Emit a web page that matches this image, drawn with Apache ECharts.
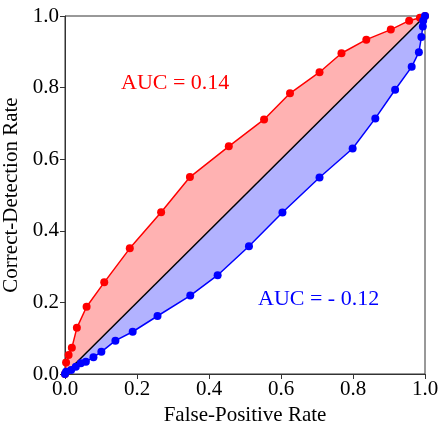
<!DOCTYPE html>
<html><head><meta charset="utf-8">
<script src="https://cdn.jsdelivr.net/npm/echarts@6/dist/echarts.min.js"></script>
<style>html,body{margin:0;padding:0;background:#fff}#c{width:440px;height:422px}</style>
</head><body><div id="c"></div>
<script>
const redX = [0, 0.003, 0.01, 0.019, 0.033, 0.06, 0.109, 0.18, 0.267, 0.347, 0.455, 0.553, 0.625, 0.707, 0.768, 0.837, 0.905, 0.956, 0.986, 1];
const redY = [0, 0.032, 0.053, 0.073, 0.129, 0.188, 0.256, 0.351, 0.452, 0.55, 0.636, 0.711, 0.784, 0.843, 0.896, 0.934, 0.962, 0.987, 0.995, 1];
const blueX = [0, 0.003, 0.017, 0.03, 0.044, 0.058, 0.079, 0.101, 0.14, 0.188, 0.257, 0.348, 0.424, 0.511, 0.604, 0.707, 0.799, 0.862, 0.917, 0.963, 0.983, 0.99, 0.994, 0.995, 1];
const blueY = [0, 0.006, 0.011, 0.02, 0.03, 0.034, 0.047, 0.062, 0.093, 0.118, 0.162, 0.219, 0.276, 0.357, 0.451, 0.549, 0.63, 0.714, 0.794, 0.858, 0.899, 0.941, 0.971, 0.987, 1];
const diagX = [0, 1];
const diagY = [0, 1];
const axisTicks = [0, 0.2, 0.4, 0.6, 0.8, 1.0];
const redLabel = 'AUC = 0.14';
const blueLabel = 'AUC = - 0.12';

const FONT = 'Liberation Serif';
const pts = (xs, ys) => xs.map((x, i) => [x, ys[i]]);
const red = pts(redX, redY), blue = pts(blueX, blueY), diag = pts(diagX, diagY);

function fillSeries(curve, color) {
  return {
    type: 'custom', silent: true, z: 1,
    data: [0],
    renderItem: function (params, api) {
      const poly = curve.map(p => api.coord(p));
      for (let i = diag.length - 1; i >= 0; i--) poly.push(api.coord(diag[i]));
      return { type: 'polygon', shape: { points: poly }, style: { fill: color, stroke: 'none' } };
    }
  };
}

const chart = echarts.init(document.getElementById('c'), null, { renderer: 'canvas' });
const axisCommon = {
  type: 'value', min: axisTicks[0], max: axisTicks[axisTicks.length - 1], interval: 0.2,
  splitLine: { show: false },
  axisLine: { show: true, lineStyle: { color: '#333', width: 1 } },
  axisTick: { show: true, inside: false, length: 5, lineStyle: { color: '#333' } },
  axisLabel: { fontFamily: FONT, fontSize: 21, color: '#000', formatter: v => v.toFixed(1) },
  nameLocation: 'middle',
  nameTextStyle: { fontFamily: FONT, fontSize: 21, color: '#000' }
};
chart.setOption({
  animation: false,
  grid: { left: 65, right: 15, top: 16, bottom: 48, containLabel: false, outerBoundsMode: 'none', show: true, borderColor: '#333', borderWidth: 1, backgroundColor: 'transparent' },
  xAxis: Object.assign({}, axisCommon, { name: 'False-Positive Rate', nameGap: 26, axisLabel: Object.assign({}, axisCommon.axisLabel, { margin: 5 }) }),
  yAxis: Object.assign({}, axisCommon, { name: 'Correct-Detection Rate', nameGap: 34, axisLabel: Object.assign({}, axisCommon.axisLabel, { margin: 6 }) }),
  graphic: [
    { type: 'text', left: 121, top: 72, style: { text: redLabel, fill: '#ff0000', font: '22px "' + FONT + '"' } },
    { type: 'text', left: 258, top: 288, style: { text: blueLabel, fill: '#0000ff', font: '22px "' + FONT + '"' } }
  ],
  series: [
    fillSeries(red, 'rgba(255,0,0,0.3)'),
    fillSeries(blue, 'rgba(0,0,255,0.3)'),
    { type: 'line', data: diag, symbol: 'none', z: 3, lineStyle: { color: '#000', width: 1.5 } },
    { type: 'line', data: red, symbol: 'circle', symbolSize: 8, z: 4, itemStyle: { color: '#ff0000' }, lineStyle: { color: '#ff0000', width: 1.5 } },
    { type: 'line', data: blue, symbol: 'circle', symbolSize: 8, z: 5, itemStyle: { color: '#0000ff' }, lineStyle: { color: '#0000ff', width: 1.5 } }
  ]
});
</script></body></html>
